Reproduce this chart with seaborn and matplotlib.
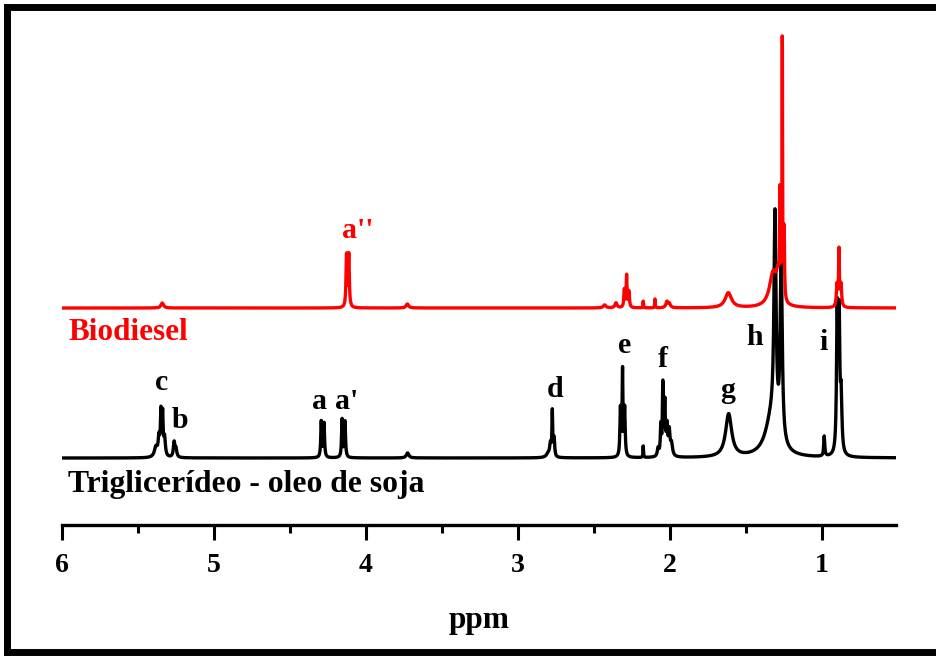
import numpy as np
import pandas as pd
import seaborn as sns
import matplotlib.pyplot as plt
from matplotlib.lines import Line2D

# -------------------------
# PEAK TABLES (ppm, height, half width in ppm)
# -------------------------
trig_ppm = [5.382, 5.362, 5.349, 5.338, 5.325, 5.262, 5.250,
            4.294, 4.276, 4.157, 4.138, 3.726,
            2.800, 2.786, 2.774, 2.762,
            2.326, 2.312, 2.298, 2.176,
            2.078, 2.060, 2.047, 2.034, 2.020, 2.005, 1.990,
            1.614, 1.330, 1.309, 1.268,
            0.985, 0.900, 0.887, 0.874]
trig_height = [10, 18, 42, 40, 18, 15, 8,
               36, 34, 38, 36, 5,
               4, 12, 44, 18,
               48, 84, 48, 12,
               8, 30, 70, 52, 28, 24, 12,
               43, 38, 210, 180,
               20, 140, 130, 55]
trig_width = [0.012, 0.006, 0.004, 0.004, 0.006, 0.006, 0.006,
              0.004, 0.004, 0.004, 0.004, 0.010,
              0.015, 0.006, 0.003, 0.004,
              0.004, 0.003, 0.004, 0.002,
              0.006, 0.004, 0.003, 0.004, 0.005, 0.006, 0.008,
              0.024, 0.050, 0.008, 0.008,
              0.004, 0.005, 0.005, 0.006]

bio_ppm = [5.340, 4.128, 4.113, 3.728,
           2.430, 2.355, 2.300, 2.285, 2.270, 2.176, 2.099, 2.020, 2.004,
           1.616, 1.320, 1.290, 1.276, 1.261, 1.249,
           0.901, 0.888, 0.875]
bio_height = [5, 52, 52, 4,
              3, 5, 18, 32, 16, 7, 9, 6, 4,
              15, 35, 20, 100, 262, 70,
              22, 55, 22]
bio_width = [0.010, 0.004, 0.004, 0.010,
             0.010, 0.008, 0.004, 0.003, 0.004, 0.002, 0.002, 0.008, 0.008,
             0.025, 0.030, 0.010, 0.003, 0.002, 0.003,
             0.005, 0.003, 0.005]

peak_labels = ["c", "b", "a", "a'", "d", "e", "f", "g", "h", "i"]
label_ppm = [5.342, 5.224, 4.303, 4.125, 2.757, 2.296, 2.046, 1.618, 1.441, 0.987]
label_y = [135, 97, 116, 116, 128, 172, 158, 127, 180, 175]

# vertical offsets of the stacked traces
trig_offset = 67
bio_offset = 217


def spectrum(x, pos, hgt, wid):
    y = np.zeros_like(x)
    for p, h, w in zip(pos, hgt, wid):
        y += h / (1 + ((x - p) / w) ** 2)
    return y


ppm = np.linspace(0.51, 6.0, 6000)
df = pd.DataFrame({
    "ppm": ppm,
    "trig": spectrum(ppm, trig_ppm, trig_height, trig_width) + trig_offset,
    "bio": spectrum(ppm, bio_ppm, bio_height, bio_width) + bio_offset,
})

# -------------------------
# PLOT
# -------------------------
sns.set_style("white")
plt.rcParams["font.family"] = ["Liberation Serif", "DejaVu Serif"]
plt.rcParams["font.weight"] = "bold"

fig = plt.figure(figsize=(9.37, 6.57), dpi=100)
ax = fig.add_axes([62 / 937, 132 / 657, 834 / 937, 505 / 657])

sns.lineplot(data=df, x="ppm", y="trig", ax=ax, color="black", lw=2.4, sort=False)
sns.lineplot(data=df, x="ppm", y="bio", ax=ax, color="red", lw=2.4, sort=False)

ax.set_xlim(6.0, 0.513)
ax.set_ylim(0, 505)
ax.set_xticks([6, 5, 4, 3, 2, 1])
ax.set_xticks(np.arange(5.5, 0.5, -1.0), minor=True)
ax.set_xticklabels(["6", "5", "4", "3", "2", "1"], fontsize=20,
                   fontweight="bold", color="black")
ax.set_yticks([])
ax.set_ylabel("")
ax.set_xlabel("ppm", fontsize=22.5, fontweight="bold", color="black", labelpad=20)
for side in ["left", "right", "top"]:
    ax.spines[side].set_visible(False)
ax.spines["bottom"].set_linewidth(2.4)
ax.spines["bottom"].set_color("black")
ax.tick_params(axis="x", which="major", direction="out", length=11, width=2.2,
               color="black", pad=9, bottom=True)
ax.tick_params(axis="x", which="minor", direction="out", length=6, width=2.2,
               color="black", bottom=True)

for lab, xp, yp in zip(peak_labels, label_ppm, label_y):
    ax.text(xp, yp, lab, ha="center", va="baseline", fontsize=21.5,
            fontweight="bold", color="black")
ax.text(4.053, 287, "a''", ha="center", va="baseline", fontsize=21.5,
        fontweight="bold", color="red")
ax.text(5.96, 185, "Biodiesel", ha="left", va="baseline", fontsize=22.5,
        fontweight="bold", color="red")
ax.text(5.96, 33, "Triglicerídeo - oleo de soja", ha="left", va="baseline",
        fontsize=22.8, fontweight="bold", color="black")

# frame around the picture (open on the right)
for xs, ys in [([0.008, 0.008], [0.007, 0.989]),
               ([0.008, 1.0], [0.989, 0.989]),
               ([0.008, 1.0], [0.007, 0.007])]:
    fig.add_artist(Line2D(xs, ys, color="black", lw=5, transform=fig.transFigure,
                          solid_capstyle="projecting"))

plt.savefig("out.png", dpi=100)
